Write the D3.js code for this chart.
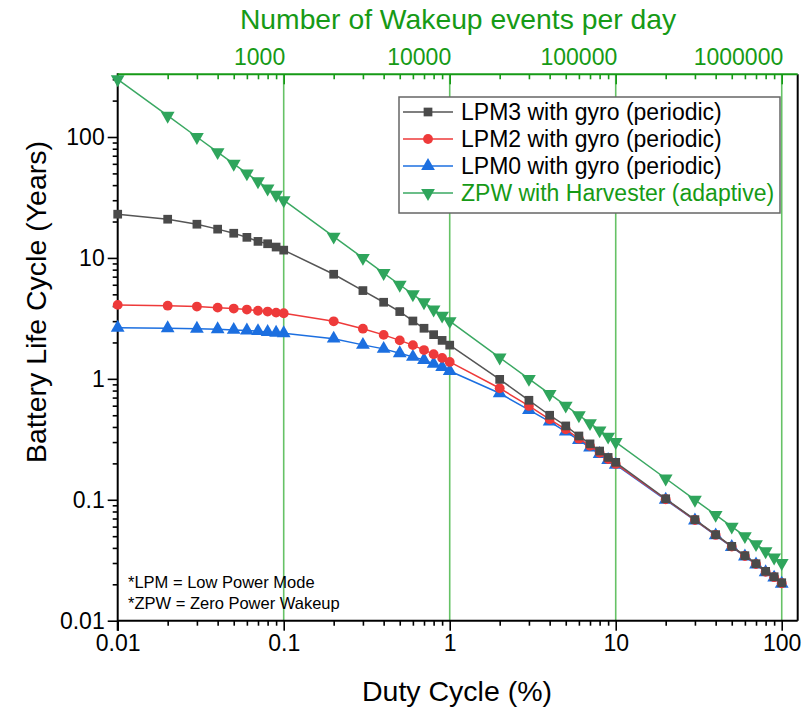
<!DOCTYPE html>
<html>
<head>
<meta charset="utf-8">
<script src="https://cdn.jsdelivr.net/npm/d3@7"></script>
<style>
  body { margin: 0; background: #fff; }
  svg { display: block; font-family: "Liberation Sans", Arial, sans-serif; }
</style>
</head>
<body>
<svg id="chart" width="812" height="707"></svg>
<script>
// ---------- DATA ----------
const dutyCycle = [0.01,0.02,0.03,0.04,0.05,0.06,0.07,0.08,0.09,0.1,
  0.2,0.3,0.4,0.5,0.6,0.7,0.8,0.9,1,
  2,3,4,5,6,7,8,9,10,
  20,30,40,50,60,70,80,90,100];
const lpm3 = [23.0,20.9,19.0,17.3,16.0,14.8,13.7,13.1,12.3,11.6,
  7.33,5.37,4.30,3.60,3.01,2.62,2.32,2.08,1.90,
  0.99,0.665,0.50,0.408,0.337,0.290,0.253,0.224,0.204,
  0.102,0.0685,0.0515,0.0412,0.0345,0.0296,0.0256,0.0231,0.0206];
const lpm2 = [4.09,4.03,3.96,3.88,3.81,3.74,3.66,3.60,3.53,3.49,
  2.99,2.60,2.31,2.08,1.90,1.73,1.60,1.49,1.38,
  0.836,0.597,0.463,0.383,0.320,0.279,0.245,0.217,0.198,
  0.101,0.068,0.0512,0.041,0.0343,0.0294,0.0254,0.0229,0.0204];
const lpm0 = [2.65,2.62,2.60,2.57,2.54,2.51,2.48,2.44,2.41,2.38,
  2.15,1.91,1.77,1.63,1.52,1.43,1.33,1.25,1.16,
  0.760,0.553,0.443,0.366,0.312,0.270,0.239,0.213,0.195,
  0.100,0.0675,0.0508,0.0407,0.034,0.0292,0.0252,0.0227,0.0202];
const zpw = [300,150,100,75,60,50,43,37.5,33.3,30,
  15,10,7.5,6,5,4.3,3.75,3.33,3,
  1.5,1,0.75,0.6,0.5,0.43,0.375,0.333,0.3,
  0.15,0.1,0.075,0.06,0.05,0.043,0.0375,0.0333,0.03];
const seriesNames = ["LPM3 with gyro (periodic)","LPM2 with gyro (periodic)","LPM0 with gyro (periodic)","ZPW with Harvester (adaptive)"];
const xTickLabels = ["0.01","0.1","1","10","100"];
const xTickValues = [0.01,0.1,1,10,100];
const yTickLabels = ["0.01","0.1","1","10","100"];
const yTickValues = [0.01,0.1,1,10,100];
const topTickValues = [1000,10000,100000,1000000];
const topTickLabels = ["1000","10000","100000","1000000"];
const notes = ["*LPM = Low Power Mode","*ZPW = Zero Power Wakeup"];

// ---------- LAYOUT ----------
const L = 117.7, R = 797.7, T = 74.3, B = 620.7;
const x = d3.scaleLog().domain([0.01, 124.8]).range([L, R]);
const xTop = d3.scaleLog().domain([100, 1248000]).range([L, R]);
const y = d3.scaleLog().domain([0.01, 330]).range([B, T]);

const GREEN = "#169a16";
const FONT = "Liberation Sans, Arial, sans-serif";
const svg = d3.select("#chart");

// grid lines (green, at major top ticks)
svg.append("g").selectAll("line").data(xTickValues.slice(1)).join("line")
  .attr("x1", d => x(d)).attr("x2", d => x(d))
  .attr("y1", T).attr("y2", B)
  .attr("stroke", "#4cb84c").attr("stroke-width", 1.6).attr("opacity", 0.85);

function logTicks(lo, hi) {
  const out = [];
  for (let e = Math.floor(Math.log10(lo)); e <= Math.ceil(Math.log10(hi)); e++) {
    for (let m = 1; m <= 9; m++) {
      const v = m * Math.pow(10, e);
      if (v >= lo * 0.9999 && v <= hi * 1.0001) out.push(v);
    }
  }
  return out;
}
const isMajor = v => Math.abs(Math.log10(v) - Math.round(Math.log10(v))) < 1e-6;
const labelFor = (vals, labs) => d => { const i = vals.findIndex(v => Math.abs(v - d) / d < 1e-6); return i >= 0 ? labs[i] : ""; };

// bottom axis
const gB = svg.append("g").attr("transform", `translate(0,${B})`)
  .call(d3.axisBottom(x).tickValues(logTicks(0.01, 124.8)).tickFormat(labelFor(xTickValues, xTickLabels)).tickSizeOuter(0));
gB.select(".domain").attr("stroke", "#000").attr("stroke-width", 2).attr("d", `M${L},0H${R}`);
gB.selectAll(".tick line").attr("stroke", "#000").attr("stroke-width", 1.6).attr("y2", d => isMajor(d) ? 10 : 5);
gB.selectAll(".tick text").attr("font-size", 23).attr("fill", "#000")
  .attr("font-family", FONT).attr("dy", "0.71em").attr("y", 14);

// left axis
const gL = svg.append("g").attr("transform", `translate(${L},0)`)
  .call(d3.axisLeft(y).tickValues(logTicks(0.01, 330)).tickFormat(labelFor(yTickValues, yTickLabels)).tickSizeOuter(0));
gL.select(".domain").attr("stroke", "#000").attr("stroke-width", 2).attr("d", `M0,${T - 1}V${B + 10}`);
gL.selectAll(".tick line").attr("stroke", "#000").attr("stroke-width", 1.6).attr("x2", d => isMajor(d) ? -10 : -5);
gL.selectAll(".tick text").attr("font-size", 23).attr("fill", "#000")
  .attr("font-family", FONT).attr("x", -13);

// right border
svg.append("line").attr("x1", R).attr("x2", R).attr("y1", T).attr("y2", B)
  .attr("stroke", "#000").attr("stroke-width", 2);

// top axis (green, ticks inward)
const gT = svg.append("g").attr("transform", `translate(0,${T})`)
  .call(d3.axisTop(xTop).tickValues(logTicks(100, 1248000)).tickFormat(labelFor(topTickValues, topTickLabels)).tickSizeOuter(0));
gT.select(".domain").attr("stroke", GREEN).attr("stroke-width", 2).attr("d", `M${L},0H${R}`);
gT.selectAll(".tick line").attr("stroke", GREEN).attr("stroke-width", 1.6).attr("y2", d => isMajor(d) ? 10 : 5);
gT.selectAll(".tick text").attr("font-size", 23).attr("fill", GREEN)
  .attr("font-family", FONT)
  .attr("text-anchor", "end").attr("x", 1).attr("y", -9);

// axis titles
svg.append("text").attr("x", 457).attr("y", 701).attr("text-anchor", "middle")
  .attr("font-size", 28.5).attr("fill", "#000").text("Duty Cycle (%)");
svg.append("text").attr("transform", "translate(46,302) rotate(-90)").attr("text-anchor", "middle")
  .attr("font-size", 28.5).attr("fill", "#000").text("Battery Life Cycle (Years)");
svg.append("text").attr("x", 458).attr("y", 29).attr("text-anchor", "middle")
  .attr("font-size", 28.3).attr("fill", GREEN).text("Number of Wakeup events per day");

// notes
svg.append("g").selectAll("text").data(notes).join("text")
  .attr("x", 128).attr("y", (d, i) => 588 + i * 21)
  .attr("font-size", 16.5).attr("fill", "#000").text(d => d);

// series
const series = [
  { name: seriesNames[0], values: lpm3, color: "#4a4a4a", line: "#555", symbol: d3.symbolSquare, size: 76 },
  { name: seriesNames[1], values: lpm2, color: "#ee3a3a", line: "#ee3a3a", symbol: d3.symbolCircle, size: 76 },
  { name: seriesNames[2], values: lpm0, color: "#1c6fe0", line: "#1c6fe0", symbol: d3.symbolTriangle, size: 82 },
  { name: seriesNames[3], values: zpw, color: "#2fa55c", line: "#3aa862", symbol: d3.symbolTriangle, size: 82, flip: true }
];
const line = d3.line().x(d => x(d[0])).y(d => y(d[1]));
const plot = svg.append("g");
series.slice().reverse().forEach(s => {
  const pts = dutyCycle.map((d, i) => [d, s.values[i]]);
  plot.append("path").datum(pts).attr("d", line).attr("fill", "none")
    .attr("stroke", s.line).attr("stroke-width", 1.5);
  plot.append("g").selectAll("path").data(pts).join("path")
    .attr("d", d3.symbol().type(s.symbol).size(s.size))
    .attr("transform", d => `translate(${x(d[0])},${y(d[1])})${s.flip ? " rotate(180)" : ""}`)
    .attr("fill", s.color);
});

// legend
const LX = 399, LY = 97, LW = 381, LH = 116;
const lg = svg.append("g");
lg.append("rect").attr("x", LX).attr("y", LY).attr("width", LW).attr("height", LH)
  .attr("fill", "#fff").attr("stroke", "#666").attr("stroke-width", 1.5);
series.forEach((s, i) => {
  const cy = LY + 15 + i * 27;
  lg.append("line").attr("x1", LX + 4).attr("x2", LX + 54).attr("y1", cy).attr("y2", cy)
    .attr("stroke", s.line).attr("stroke-width", 1.5);
  lg.append("path").attr("d", d3.symbol().type(s.symbol).size(s.size))
    .attr("transform", `translate(${LX + 29},${cy})${s.flip ? " rotate(180)" : ""}`)
    .attr("fill", s.color);
  lg.append("text").attr("x", LX + 62).attr("y", cy + 8)
    .attr("font-size", 23).attr("fill", i === 3 ? GREEN : "#000").text(s.name);
});
</script>
</body>
</html>
